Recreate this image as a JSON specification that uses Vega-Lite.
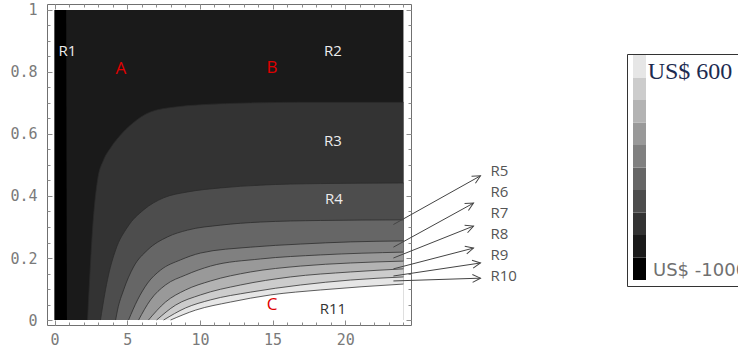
{
  "$schema": "https://vega.github.io/schema/vega-lite/v6.json",
  "width": 364,
  "height": 321,
  "autosize": {"type": "none"},
  "padding": {"left": 47, "top": 4, "right": 327, "bottom": 27},
  "background": "white",
  "config": {
    "view": {"stroke": "#707070", "strokeWidth": 1},
    "axis": {"domain": false, "grid": false, "title": null, "tickColor": "#8c8c8c", "tickWidth": 1, "labelColor": "#7a7a7a", "labelFont": "DejaVu Sans Mono", "labelFontSize": 15, "labelFlush": false}
  },
  "datasets": {
    "curves": [
      {"b": "b2", "lvl": -600, "x": 2.27, "y": 0}, {"b": "b2", "lvl": -600, "x": 2.41, "y": 0.129}, {"b": "b2", "lvl": -600, "x": 2.61, "y": 0.29}, {"b": "b2", "lvl": -600, "x": 2.96, "y": 0.452}, {"b": "b2", "lvl": -600, "x": 3.37, "y": 0.516}, {"b": "b2", "lvl": -600, "x": 3.85, "y": 0.555}, {"b": "b2", "lvl": -600, "x": 4.54, "y": 0.597}, {"b": "b2", "lvl": -600, "x": 5.23, "y": 0.629}, {"b": "b2", "lvl": -600, "x": 6.6, "y": 0.671}, {"b": "b2", "lvl": -600, "x": 8.32, "y": 0.687}, {"b": "b2", "lvl": -600, "x": 10.04, "y": 0.694}, {"b": "b2", "lvl": -600, "x": 13.48, "y": 0.7}, {"b": "b2", "lvl": -600, "x": 16.92, "y": 0.702}, {"b": "b2", "lvl": -600, "x": 24, "y": 0.702},
      {"b": "b3", "lvl": -440, "x": 3.16, "y": 0}, {"b": "b3", "lvl": -440, "x": 3.44, "y": 0.081}, {"b": "b3", "lvl": -440, "x": 3.71, "y": 0.145}, {"b": "b3", "lvl": -440, "x": 4.2, "y": 0.226}, {"b": "b3", "lvl": -440, "x": 5.02, "y": 0.3}, {"b": "b3", "lvl": -440, "x": 6.12, "y": 0.355}, {"b": "b3", "lvl": -440, "x": 7.5, "y": 0.394}, {"b": "b3", "lvl": -440, "x": 9.15, "y": 0.413}, {"b": "b3", "lvl": -440, "x": 11.42, "y": 0.426}, {"b": "b3", "lvl": -440, "x": 14.17, "y": 0.435}, {"b": "b3", "lvl": -440, "x": 18.29, "y": 0.44}, {"b": "b3", "lvl": -440, "x": 24, "y": 0.442},
      {"b": "b4", "lvl": -280, "x": 4.2, "y": 0}, {"b": "b4", "lvl": -280, "x": 4.33, "y": 0.032}, {"b": "b4", "lvl": -280, "x": 4.75, "y": 0.097}, {"b": "b4", "lvl": -280, "x": 5.43, "y": 0.171}, {"b": "b4", "lvl": -280, "x": 6.4, "y": 0.226}, {"b": "b4", "lvl": -280, "x": 7.77, "y": 0.268}, {"b": "b4", "lvl": -280, "x": 9.15, "y": 0.29}, {"b": "b4", "lvl": -280, "x": 11.42, "y": 0.306}, {"b": "b4", "lvl": -280, "x": 14.17, "y": 0.316}, {"b": "b4", "lvl": -280, "x": 18.29, "y": 0.321}, {"b": "b4", "lvl": -280, "x": 24, "y": 0.323},
      {"b": "b5", "lvl": -120, "x": 5.09, "y": 0}, {"b": "b5", "lvl": -120, "x": 5.71, "y": 0.065}, {"b": "b5", "lvl": -120, "x": 6.4, "y": 0.119}, {"b": "b5", "lvl": -120, "x": 7.29, "y": 0.161}, {"b": "b5", "lvl": -120, "x": 8.67, "y": 0.194}, {"b": "b5", "lvl": -120, "x": 10.04, "y": 0.216}, {"b": "b5", "lvl": -120, "x": 13.48, "y": 0.235}, {"b": "b5", "lvl": -120, "x": 16.92, "y": 0.245}, {"b": "b5", "lvl": -120, "x": 20.36, "y": 0.252}, {"b": "b5", "lvl": -120, "x": 24, "y": 0.255},
      {"b": "b6", "lvl": 40, "x": 5.78, "y": 0}, {"b": "b6", "lvl": 40, "x": 6.6, "y": 0.065}, {"b": "b6", "lvl": 40, "x": 7.63, "y": 0.113}, {"b": "b6", "lvl": 40, "x": 9.01, "y": 0.145}, {"b": "b6", "lvl": 40, "x": 10.73, "y": 0.174}, {"b": "b6", "lvl": 40, "x": 14.17, "y": 0.197}, {"b": "b6", "lvl": 40, "x": 18.29, "y": 0.21}, {"b": "b6", "lvl": 40, "x": 24, "y": 0.219},
      {"b": "b7", "lvl": 200, "x": 6.46, "y": 0}, {"b": "b7", "lvl": 200, "x": 7.63, "y": 0.058}, {"b": "b7", "lvl": 200, "x": 9.01, "y": 0.097}, {"b": "b7", "lvl": 200, "x": 10.73, "y": 0.126}, {"b": "b7", "lvl": 200, "x": 13.48, "y": 0.155}, {"b": "b7", "lvl": 200, "x": 16.92, "y": 0.174}, {"b": "b7", "lvl": 200, "x": 20.36, "y": 0.184}, {"b": "b7", "lvl": 200, "x": 24, "y": 0.19},
      {"b": "b8", "lvl": 360, "x": 7.02, "y": 0}, {"b": "b8", "lvl": 360, "x": 8.32, "y": 0.048}, {"b": "b8", "lvl": 360, "x": 10.04, "y": 0.081}, {"b": "b8", "lvl": 360, "x": 12.79, "y": 0.113}, {"b": "b8", "lvl": 360, "x": 16.23, "y": 0.139}, {"b": "b8", "lvl": 360, "x": 20.36, "y": 0.155}, {"b": "b8", "lvl": 360, "x": 24, "y": 0.165},
      {"b": "b9", "lvl": 520, "x": 7.5, "y": 0}, {"b": "b9", "lvl": 520, "x": 9.01, "y": 0.039}, {"b": "b9", "lvl": 520, "x": 10.73, "y": 0.065}, {"b": "b9", "lvl": 520, "x": 13.48, "y": 0.09}, {"b": "b9", "lvl": 520, "x": 16.92, "y": 0.113}, {"b": "b9", "lvl": 520, "x": 20.36, "y": 0.129}, {"b": "b9", "lvl": 520, "x": 24, "y": 0.139},
      {"b": "b10", "lvl": 680, "x": 7.98, "y": 0}, {"b": "b10", "lvl": 680, "x": 9.7, "y": 0.032}, {"b": "b10", "lvl": 680, "x": 12.1, "y": 0.058}, {"b": "b10", "lvl": 680, "x": 14.86, "y": 0.081}, {"b": "b10", "lvl": 680, "x": 18.29, "y": 0.097}, {"b": "b10", "lvl": 680, "x": 24, "y": 0.116}
    ],
    "strip": [{"y": 0, "x": 0.85}, {"y": 1, "x": 0.8}],
    "labels": [
      {"t": "R1", "x": 0.89, "y": 0.868, "g": "w"},
      {"t": "R2", "x": 19.15, "y": 0.868, "g": "w"},
      {"t": "R3", "x": 19.15, "y": 0.577, "g": "w"},
      {"t": "R4", "x": 19.22, "y": 0.389, "g": "w"},
      {"t": "R11", "x": 19.15, "y": 0.035, "g": "d"},
      {"t": "A", "x": 4.57, "y": 0.81, "g": "r"},
      {"t": "B", "x": 14.96, "y": 0.813, "g": "r"},
      {"t": "C", "x": 14.96, "y": 0.048, "g": "r"},
      {"t": "R5", "x": 29.99, "y": 0.481, "g": "o"},
      {"t": "R6", "x": 29.99, "y": 0.413, "g": "o"},
      {"t": "R7", "x": 29.99, "y": 0.345, "g": "o"},
      {"t": "R8", "x": 29.99, "y": 0.277, "g": "o"},
      {"t": "R9", "x": 29.99, "y": 0.21, "g": "o"},
      {"t": "R10", "x": 29.99, "y": 0.142, "g": "o"}
    ],
    "arrows": [
      {"t": "R5", "x": 23.31, "y": 0.308, "x2": 29.3, "y2": 0.465},
      {"t": "R6", "x": 23.31, "y": 0.235, "x2": 28.82, "y2": 0.377},
      {"t": "R7", "x": 23.31, "y": 0.2, "x2": 28.82, "y2": 0.303},
      {"t": "R8", "x": 23.31, "y": 0.165, "x2": 28.82, "y2": 0.232},
      {"t": "R9", "x": 23.31, "y": 0.142, "x2": 29.3, "y2": 0.184},
      {"t": "R10", "x": 23.31, "y": 0.126, "x2": 29.3, "y2": 0.135}
    ]
  },
  "layer": [
    {
      "data": {"values": [{}]},
      "mark": {"type": "rect", "color": "#1a1a1a"},
      "encoding": {
        "x": {"datum": 0, "type": "quantitative", "scale": {"domain": [-0.52, 24.52], "nice": false, "zero": false},
              "axis": {"orient": "bottom", "values": [0, 5, 10, 15, 20], "format": "d", "tickSize": -5, "labelPadding": 12, "title": null}},
        "x2": {"datum": 24},
        "y": {"datum": 0, "type": "quantitative", "scale": {"domain": [-0.016, 1.019], "nice": false, "zero": false},
              "axis": {"orient": "left", "values": [0, 0.2, 0.4, 0.6, 0.8, 1], "format": "~g", "tickSize": -5, "labelPadding": 15, "title": null}},
        "y2": {"datum": 1}
      }
    },
    {
      "data": {"name": "curves"},
      "transform": [{"filter": "datum.b != 'b10'"}],
      "mark": {"type": "area", "interpolate": "monotone"},
      "encoding": {
        "x": {"field": "x", "type": "quantitative",
              "axis": {"orient": "bottom", "values": [0,1,2,3,4,5,6,7,8,9,10,11,12,13,14,15,16,17,18,19,20,21,22,23,24], "labels": false, "tickSize": -3, "title": null}},
        "y": {"field": "y", "type": "quantitative",
              "axis": {"orient": "left", "values": [0,0.05,0.1,0.15,0.2,0.25,0.3,0.35,0.4,0.45,0.5,0.55,0.6,0.65,0.7,0.75,0.8,0.85,0.9,0.95,1], "labels": false, "tickSize": -3, "title": null}},
        "y2": {"datum": 0},
        "detail": {"field": "b"},
        "color": {
          "field": "lvl", "type": "quantitative",
          "scale": {"type": "quantize", "domain": [-1000, 600], "range": ["#000000", "#1a1a1a", "#333333", "#4d4d4d", "#666666", "#808080", "#999999", "#b3b3b3", "#cccccc", "#e6e6e6"]},
          "legend": {
            "orient": "none", "legendX": 580, "legendY": 50, "direction": "vertical", "type": "gradient",
            "title": "US$ 600", "titleFont": "Liberation Serif", "titleFontSize": 24, "titleFontWeight": "normal", "titleColor": "#1c2b50",
            "titlePadding": -29, "titleAnchor": "middle",
            "gradientLength": 225, "gradientThickness": 13, "gradientStrokeWidth": 0,
            "labelExpr": "datum.value <= -999 ? 'US$ -1000' : ''", "labelFont": "DejaVu Sans", "labelFontSize": 18, "labelColor": "#707070", "labelOffset": 7, "labelOverlap": false,
            "padding": 6, "strokeColor": "#333333", "fillColor": "#ffffff"
          }
        }
      }
    },
    {
      "data": {"name": "curves"},
      "transform": [{"filter": "datum.b == 'b10'"}],
      "mark": {"type": "area", "interpolate": "monotone", "color": "#ffffff"},
      "encoding": {
        "x": {"field": "x", "type": "quantitative",
              "axis": {"orient": "top", "values": [0, 5, 10, 15, 20], "labels": false, "tickSize": -5, "title": null}},
        "y": {"field": "y", "type": "quantitative",
              "axis": {"orient": "right", "values": [0, 0.2, 0.4, 0.6, 0.8, 1], "labels": false, "tickSize": -5, "title": null}},
        "y2": {"datum": 0}
      }
    },
    {
      "data": {"name": "strip"},
      "mark": {"type": "area", "orient": "horizontal", "color": "#000000"},
      "encoding": {
        "y": {"field": "y", "type": "quantitative",
              "axis": {"orient": "right", "values": [0,0.05,0.1,0.15,0.2,0.25,0.3,0.35,0.4,0.45,0.5,0.55,0.6,0.65,0.7,0.75,0.8,0.85,0.9,0.95,1], "labels": false, "tickSize": -3, "title": null}},
        "x": {"field": "x", "type": "quantitative",
              "axis": {"orient": "top", "values": [0,1,2,3,4,5,6,7,8,9,10,11,12,13,14,15,16,17,18,19,20,21,22,23,24], "labels": false, "tickSize": -3, "title": null}},
        "x2": {"datum": 0}
      }
    },
    {
      "data": {"name": "curves"},
      "mark": {"type": "line", "interpolate": "monotone", "color": "#2a2a2a", "strokeWidth": 1, "opacity": 0.75},
      "encoding": {
        "x": {"field": "x", "type": "quantitative", "axis": null},
        "y": {"field": "y", "type": "quantitative", "axis": null},
        "detail": {"field": "b"}
      }
    },
    {
      "data": {"name": "labels"},
      "transform": [{"filter": "datum.g == 'w'"}],
      "mark": {"type": "text", "font": "Open Sans", "fontSize": 15, "color": "#ececec", "align": "center", "baseline": "middle"},
      "encoding": {
        "x": {"field": "x", "type": "quantitative", "axis": null},
        "y": {"field": "y", "type": "quantitative", "axis": null},
        "text": {"field": "t"}
      }
    },
    {
      "data": {"name": "labels"},
      "transform": [{"filter": "datum.g == 'd'"}],
      "mark": {"type": "text", "font": "Open Sans", "fontSize": 15, "color": "#333333", "align": "center", "baseline": "middle"},
      "encoding": {
        "x": {"field": "x", "type": "quantitative", "axis": null},
        "y": {"field": "y", "type": "quantitative", "axis": null},
        "text": {"field": "t"}
      }
    },
    {
      "data": {"name": "labels"},
      "transform": [{"filter": "datum.g == 'r'"}],
      "mark": {"type": "text", "font": "Open Sans", "fontSize": 17, "color": "#e00000", "align": "center", "baseline": "middle"},
      "encoding": {
        "x": {"field": "x", "type": "quantitative", "axis": null},
        "y": {"field": "y", "type": "quantitative", "axis": null},
        "text": {"field": "t"}
      }
    },
    {
      "data": {"name": "arrows"},
      "mark": {"type": "rule", "color": "#444444", "strokeWidth": 1},
      "encoding": {
        "x": {"field": "x", "type": "quantitative", "axis": null},
        "y": {"field": "y", "type": "quantitative", "axis": null},
        "x2": {"field": "x2"},
        "y2": {"field": "y2"}
      }
    },
    {
      "data": {"name": "arrows"},
      "transform": [{"calculate": "atan2(-(datum.y2 - datum.y) * 310, (datum.x2 - datum.x) * 14.54) * 180 / PI", "as": "ang"}],
      "mark": {"type": "point", "shape": "M -1 -0.5 L 0 0 L -1 0.5", "filled": false, "stroke": "#444444", "strokeWidth": 1, "size": 256, "opacity": 1},
      "encoding": {
        "x": {"field": "x2", "type": "quantitative", "axis": null},
        "y": {"field": "y2", "type": "quantitative", "axis": null},
        "angle": {"field": "ang", "type": "quantitative", "scale": null}
      }
    },
    {
      "data": {"name": "labels"},
      "transform": [{"filter": "datum.g == 'o'"}],
      "mark": {"type": "text", "font": "Open Sans", "fontSize": 15, "color": "#555555", "align": "left", "baseline": "middle"},
      "encoding": {
        "x": {"field": "x", "type": "quantitative", "axis": null},
        "y": {"field": "y", "type": "quantitative", "axis": null},
        "text": {"field": "t"}
      }
    }
  ],
  "resolve": {"axis": {"x": "independent", "y": "independent"}}
}
